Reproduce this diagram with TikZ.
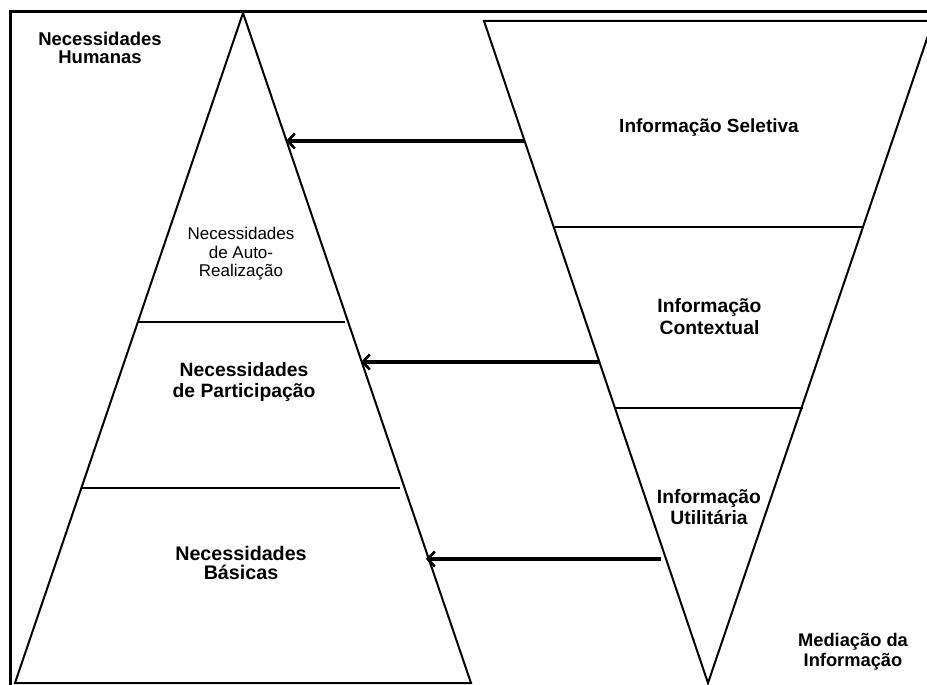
\documentclass[tikz,border=0pt]{standalone}
\usepackage{fontspec}
\setmainfont{Liberation Sans}
\usetikzlibrary{arrows.meta}
\tikzset{
  frameline/.style={line width=3pt},
  shapeline/.style={line width=2pt},
  divline/.style={line width=2pt},
  linkarrow/.style={line width=3.4pt, -{Straight Barb[length=7pt,width=15pt,line width=2.6pt]}},
  lbl/.style={inner sep=0pt, align=center, font=\bfseries\fontsize{19.3}{21}\selectfont},
}
\begin{document}
\begin{tikzpicture}[x=1pt,y=-1pt]
\useasboundingbox (0,0) rectangle (927,685);
\clip (0,0) rectangle (927,685);
% frame
\draw[frameline] (10,686) -- (10,12) -- (930,12);
% left pyramid
\coordinate (LA) at (243,13);
\coordinate (LBl) at (15,683);
\coordinate (LBr) at (471,683);
\draw[shapeline] (LBl) -- (LA) -- (LBr) -- cycle;
\draw[divline] (138,322) -- (345,322);
\draw[divline] (82,488) -- (400,488);
% inverted pyramid
\coordinate (RTl) at (484,21);
\coordinate (RTr) at (933,21);
\coordinate (RB) at (708,683);
\draw[shapeline] (RTr) -- (RTl) -- (RB) -- cycle;
\draw[divline] (555,227) -- (862,227);
\draw[divline] (615,408) -- (803,408);
% arrow anchors
\coordinate (a1s) at (525,141);
\coordinate (a1e) at (286,141);
\coordinate (a2s) at (599,362);
\coordinate (a2e) at (361,362);
\coordinate (a3s) at (661,559);
\coordinate (a3e) at (426,559);
\draw[linkarrow] (a1s) -- (a1e);
\draw[linkarrow] (a2s) -- (a2e);
\draw[linkarrow] (a3s) -- (a3e);
% labels
\node[lbl, font=\bfseries\fontsize{18.5}{17.6}\selectfont] (nh) at (100,48) {Necessidades\\Humanas};
\node[lbl, font=\bfseries\fontsize{19}{21}\selectfont] (is) at (709,127.7) {Informação Seletiva};
\node[lbl, font=\fontsize{17}{18.7}\selectfont] (nar) at (241,253.7) {Necessidades\\de Auto-\\Realização};
\node[lbl, font=\bfseries\fontsize{19.3}{20.6}\selectfont] (np) at (244,382) {Necessidades\\de Participação};
\node[lbl, font=\bfseries\fontsize{19.3}{21.6}\selectfont] (ic) at (709.5,316.4) {Informação\\Contextual};
\node[lbl, font=\bfseries\fontsize{19.3}{21}\selectfont] (iu) at (709,507.5) {Informação\\Utilitária};
\node[lbl, font=\bfseries\fontsize{19.7}{19}\selectfont] (nb) at (241,563.4) {Necessidades\\Básicas};
\node[lbl, font=\bfseries\fontsize{18.3}{20.3}\selectfont] (mi) at (853,652) {Mediação da\\Informação};
\end{tikzpicture}
\end{document}
